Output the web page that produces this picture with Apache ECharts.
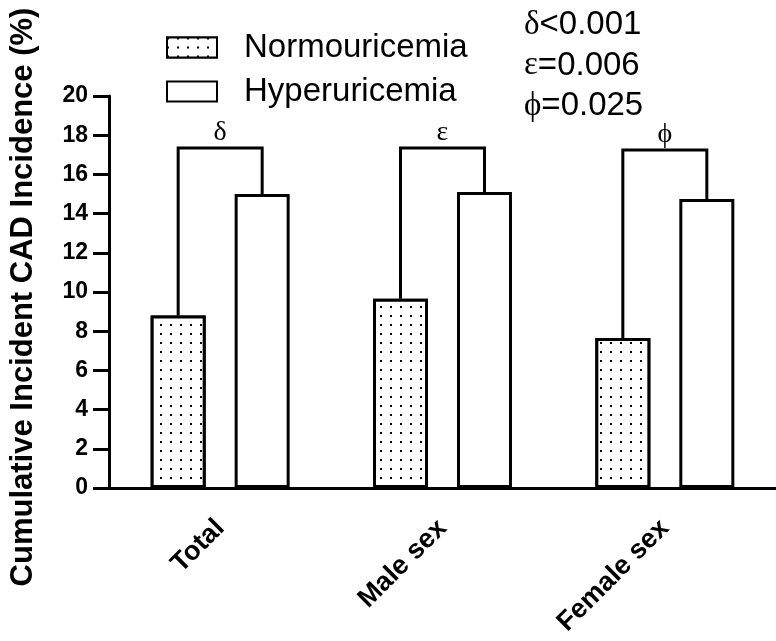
<!DOCTYPE html>
<html>
<head>
<meta charset="utf-8">
<script src="https://cdn.jsdelivr.net/npm/echarts@6/dist/echarts.min.js"></script>
<style>html,body{margin:0;padding:0;background:#fff;}#chart{width:776px;height:641px;}</style>
</head>
<body>
<div id="chart"></div>
<script>
// ---- data ----
const categories = ['Total', 'Male sex', 'Female sex'];
const normouricemia = [8.8, 9.65, 7.65];
const hyperuricemia = [15.0, 15.1, 14.75];
const bracketTop = [17.35, 17.35, 17.25];
const sigLabels = ['δ', 'ε', 'ϕ'];
const pValueLines = ['δ<0.001', 'ε=0.006', 'ϕ=0.025'];
const yMin = 0, yMax = 20, yStep = 2;
const seriesNames = ['Normouricemia', 'Hyperuricemia'];

// ---- style constants ----
const BAR_W = 55;
const BAR_CENTER_OFFSET = 42;
const BAR_GAP = ((2 * BAR_CENTER_OFFSET - BAR_W) / BAR_W * 100).toFixed(1) + '%';
const SANS = 'Liberation Sans, Arial, sans-serif';
const SERIF = 'Liberation Serif, Times New Roman, serif';

const chart = echarts.init(document.getElementById('chart'), null, {renderer: 'canvas'});

const dotDecal = {
  symbol: 'rect',
  symbolSize: 1,
  dashArrayX: [1.5, 7.2],
  dashArrayY: [1.5, 6.2],
  color: '#000',
  backgroundColor: '#fff'
};

const option = {
  backgroundColor: '#fff',
  animation: false,
  title: {
    text: pValueLines.map(s => '{g|' + s[0] + '}' + s.slice(1)).join('\n'),
    left: 519,
    top: 0,
    textStyle: {
      fontFamily: SANS,
      fontSize: 33,
      fontWeight: 'normal',
      color: '#000',
      lineHeight: 40.5,
      rich: {
        g: {fontFamily: SERIF, fontSize: 33, color: '#000', lineHeight: 40.5}
      }
    }
  },
  legend: {
    orient: 'vertical',
    left: 161,
    top: 26,
    itemWidth: 50,
    itemHeight: 20,
    itemGap: 11,
    icon: 'rect',
    data: seriesNames,
    textStyle: {fontFamily: SANS, fontSize: 33, color: '#000', padding: [0, 0, 0, 22]}
  },
  grid: {left: 101, right: 0, top: 96, bottom: 153, containLabel: false},
  xAxis: {
    type: 'category',
    data: categories,
    axisLine: {lineStyle: {color: '#000', width: 3}},
    axisTick: {alignWithLabel: true, length: 12, lineStyle: {color: '#000', width: 3}},
    axisLabel: {
      rotate: 45,
      margin: 36,
      fontFamily: SANS,
      fontWeight: 'bold',
      fontSize: 27,
      color: '#000'
    },
    splitLine: {show: false}
  },
  yAxis: {
    type: 'value',
    min: yMin,
    max: yMax,
    interval: yStep,
    name: 'Cumulative Incident CAD Incidence (%)',
    nameLocation: 'middle',
    nameGap: 70,
    nameTextStyle: {fontFamily: SANS, fontWeight: 'bold', fontSize: 31, color: '#000', padding: [0, 10, 0, 0]},
    axisLine: {show: true, lineStyle: {color: '#000', width: 3}},
    axisTick: {show: true, length: 16, lineStyle: {color: '#000', width: 3}},
    axisLabel: {margin: 21, fontFamily: SANS, fontWeight: 'bold', fontSize: 23, color: '#000'},
    splitLine: {show: false}
  },
  series: [
    {
      name: seriesNames[0],
      type: 'bar',
      data: normouricemia,
      barWidth: BAR_W,
      barGap: BAR_GAP,
      itemStyle: {color: '#fff', borderColor: '#000', borderWidth: 3, decal: dotDecal}
    },
    {
      name: seriesNames[1],
      type: 'bar',
      data: hyperuricemia,
      barWidth: BAR_W,
      barGap: BAR_GAP,
      itemStyle: {color: '#fff', borderColor: '#000', borderWidth: 3}
    },
    {
      name: 'brackets',
      type: 'custom',
      silent: true,
      z: 5,
      data: categories.map((c, i) => [i, normouricemia[i], hyperuricemia[i], bracketTop[i]]),
      encode: {x: 0, y: 3},
      renderItem: function (params, api) {
        const i = api.value(0);
        const top = api.coord([i, api.value(3)]);
        const yN = api.coord([i, api.value(1)])[1];
        const yH = api.coord([i, api.value(2)])[1];
        const xN = top[0] - BAR_CENTER_OFFSET;
        const xH = top[0] + BAR_CENTER_OFFSET;
        return {
          type: 'group',
          children: [
            {
              type: 'polyline',
              shape: {points: [[xN, yN], [xN, top[1]], [xH, top[1]], [xH, yH]]},
              style: {stroke: '#000', lineWidth: 3, fill: null}
            },
            {
              type: 'text',
              x: top[0],
              y: top[1] - 1,
              style: {
                text: sigLabels[params.dataIndex],
                fontFamily: SERIF,
                fontSize: 28,
                fill: '#000',
                align: 'center',
                verticalAlign: 'bottom'
              }
            }
          ]
        };
      }
    }
  ]
};
chart.setOption(option);
</script>
</body>
</html>
